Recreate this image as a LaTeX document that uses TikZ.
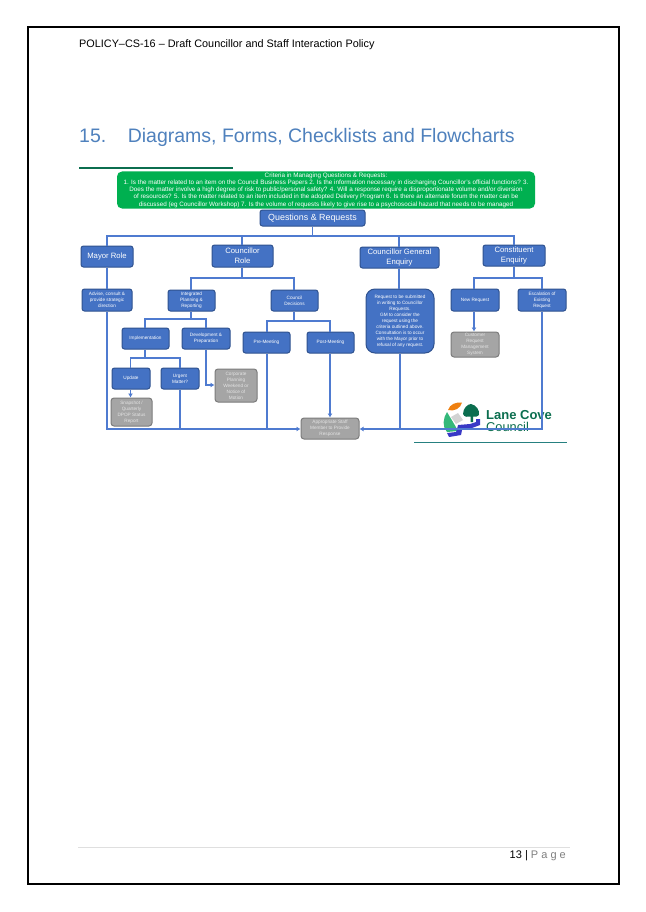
\documentclass[tikz,border=0pt]{standalone}
\usepackage{fontspec}
\setmainfont{Liberation Sans}
\usetikzlibrary{arrows.meta}
\definecolor{bluefill}{HTML}{4472C4}
\definecolor{blueedge}{HTML}{2F528F}
\definecolor{blueline}{HTML}{4F7BD0}
\definecolor{grayfill}{HTML}{A5A5A5}
\definecolor{grayedge}{HTML}{7C7C7C}
\definecolor{graytext}{HTML}{E4E4E4}
\definecolor{headcol}{HTML}{4F81BD}
\definecolor{critgreen}{HTML}{00B050}
\definecolor{logogreen}{HTML}{0B6E4F}
\tikzset{
  x=1pt,y=-1pt,
  box/.style={draw=blueedge,fill=bluefill,line width=1pt,rounded corners=2.5pt,text=white,align=center,inner sep=0pt,font=\fontsize{4.7}{6}\selectfont},
  graybox/.style={draw=grayedge,fill=grayfill,line width=1pt,rounded corners=3pt,text=graytext,align=center,inner sep=0pt,font=\fontsize{4.7}{6}\selectfont},
  bigbox/.style={box,font=\fontsize{7.7}{9.6}\selectfont},
  conn/.style={draw=blueline,line width=1.1pt},
  arr/.style={conn,-{Latex[length=4pt,width=5pt]}},
}
\newcommand{\bx}[7][box]{%
  \node[#1,minimum width=#5pt-#3pt,minimum height=#6pt-#4pt] (#2) at ({(#3+#5)/2},{(#4+#6)/2}) {#7};}
\begin{document}
\begin{tikzpicture}
\useasboundingbox (0,0) rectangle (645,912);
\fill[white] (0,0) rectangle (645,912);
\draw[black,line width=2pt] (28,27.5) rectangle (619,884);
\node[anchor=west,inner sep=0pt,font=\fontsize{10.85}{13}\selectfont] (hdr) at (79,45) {POLICY–CS-16 – Draft Councillor and Staff Interaction Policy};
\node[anchor=west,inner sep=0pt,text=headcol,font=\fontsize{19.5}{24}\selectfont] (ttl) at (79,137) {15.\hspace{21.5pt}Diagrams, Forms, Checklists and Flowcharts};
\coordinate (hl1) at (79,168.5); \coordinate (hl2) at (233,168.5);
\draw[logogreen,line width=2pt] (hl1) -- (hl2);
% criteria
\node[fill=critgreen,rounded corners=5pt,minimum width=418pt,minimum height=37pt,inner sep=0pt,text=white,align=center,font=\fontsize{6.3}{7.3}\selectfont] (crit) at (326,190) {Criteria in Managing Questions \& Requests:\\
1. Is the matter related to an item on the Council Business Papers 2. Is the information necessary in discharging Councillor's official functions? 3.\\
Does the matter involve a high degree of risk to public/personal safety? 4. Will a response require a disproportionate volume and/or diversion\\
of resources? 5. Is the matter related to an item included in the adopted Delivery Program 6. Is there an alternate forum the matter can be\\
discussed (eg Councillor Workshop) 7. Is the volume of requests likely to give rise to a psychosocial hazard that needs to be managed};
\coordinate (qb) at (312.5,236);
\coordinate (b1) at (107,236); \coordinate (b2) at (242,236); \coordinate (b3) at (399,236); \coordinate (b4) at (514,236);
\coordinate (cb) at (242,278); \coordinate (cb1) at (191,278); \coordinate (cb2) at (294,278);
\coordinate (ib) at (191,319); \coordinate (ib1) at (145,319); \coordinate (ib2) at (206,319);
\coordinate (mb) at (145,358); \coordinate (mb1) at (130.5,358); \coordinate (mb2) at (180,358);
\coordinate (db) at (294,321); \coordinate (db1) at (267,321); \coordinate (db2) at (330,321);
\coordinate (kb) at (514,278); \coordinate (kb1) at (474,278); \coordinate (kb2) at (542,278);
\coordinate (lb) at (107,429); \coordinate (urg) at (180,429); \coordinate (pre) at (267,429);
\coordinate (gen) at (400,429); \coordinate (esc) at (542,429);
\coordinate (cp) at (206,385);
% logo
\fill[orange!75!brown] (448,410) .. controls (450,404) and (456,402) .. (462,402.5) .. controls (461,408) and (454,412) .. (448,410) -- cycle;
\fill[teal!70!green!80] (447,412) .. controls (443,418) and (442,427) .. (447,432) -- (458,431) .. controls (455,425) and (451,419) .. (447,412) -- cycle;
\fill[gray!35] (451,417) -- (458,413) -- (463,420) -- (456,424) -- cycle;
\fill[logogreen] (463,414) .. controls (463,408) and (468,404) .. (471,404) .. controls (476,405) and (480,410) .. (479,415) .. controls (478,417) and (475,417) .. (473,416.5) -- (473,422) -- (470.5,422) -- (470.5,416.5) .. controls (468,417.5) and (464,417) .. (463,414) -- cycle;
\fill[blue!55!gray] (458,425) -- (470,424) -- (476,422) -- (476,419) -- (480,419) -- (480,425) -- (472,428) -- (462,430) -- (461,435) -- (449,437) -- (447,433) -- (456,432) -- (457,429) -- cycle;
\node[anchor=west,inner sep=0pt,text=logogreen,font=\bfseries\fontsize{13}{15}\selectfont] (lc) at (486,415) {Lane Cove};
\node[anchor=west,inner sep=0pt,text=logogreen,font=\fontsize{12.8}{15}\selectfont] (cc) at (486,427) {Council};
\coordinate (gl1) at (414,442); \coordinate (gl2) at (567,442);
\draw[teal!70!gray,line width=1pt] (gl1) -- (gl2);
% boxes
\bx[bigbox,font=\fontsize{8.9}{11}\selectfont]{q}{260}{210}{365}{226}{Questions \& Requests}
\bx[bigbox]{mayor}{81}{246}{133}{267}{Mayor Role}
\bx[bigbox]{coun}{212}{245}{273}{267}{Councillor\\Role}
\bx[bigbox]{cge}{360}{247}{439}{268}{Councillor General\\Enquiry}
\bx[bigbox]{cons}{483}{245}{545}{266}{Constituent\\Enquiry}
\bx{adv}{82}{289}{132}{311}{Advise, consult \&\\provide strategic\\direction}
\bx{ipr}{168}{290}{215}{311}{Integrated\\Planning \&\\Reporting}
\bx{dec}{271}{290}{318}{311}{Council\\Decisions}
\bx{imp}{122}{328}{169}{349}{Implementation}
\bx{dev}{182}{328}{230}{349}{Development \&\\Preparation}
\bx{prem}{243}{332}{290}{353}{Pre-Meeting}
\bx{post}{307}{332}{354}{353}{Post-Meeting}
\bx{upd}{112}{368}{150}{389}{Update}
\bx{urgm}{161}{368}{199}{389}{Urgent\\Matter?}
\bx[graybox]{snap}{111}{398}{152}{426}{Snapshot /\\Quarterly\\DPOP Status\\Report}
\bx[graybox]{corp}{215}{369}{257}{402}{Corporate\\Planning\\Weekend or\\Notice of\\Motion}
\bx[graybox]{staff}{301}{418}{359}{439}{Appropriate Staff\\Member to Provide\\Response}
\node[box,rounded corners=9pt,minimum width=68pt,minimum height=64pt] (req) at (400,321) {Request to be submitted\\in writing to Councillor\\Requests.\\GM to consider the\\request using the\\criteria outlined above.\\Consultation is to occur\\with the Mayor prior to\\refusal of any request.};
\bx{newr}{451}{289}{499}{311}{New Request}
\bx{escr}{518}{289}{566}{311}{Escalation of\\Existing\\Request}
\bx[graybox]{crm}{451}{332}{499}{357}{Customer\\Request\\Management\\System}
% connectors
\draw[conn] (q.south -| qb) -- (qb);
\draw[conn] (mayor.north -| b1) |- (b4) -- (cons.north -| b4);
\draw[conn] (b2) -- (coun.north -| b2);
\draw[conn] (b3) -- (cge.north -| b3);
\draw[conn] (mayor.south -| b1) -- (adv.north -| b1);
\draw[conn] (coun.south -| cb) -- (cb);
\draw[conn] (ipr.north -| cb1) |- (cb2) -- (dec.north -| cb2);
\draw[conn] (cge.south -| b3) -- (req.north -| b3);
\draw[conn] (cons.south -| kb) -- (kb);
\draw[conn] (newr.north -| kb1) |- (kb2) -- (escr.north -| kb2);
\draw[conn] (ipr.south -| ib) -- (ib);
\draw[conn] (imp.north -| ib1) |- (ib2) -- (dev.north -| ib2);
\draw[conn] (imp.south -| mb) -- (mb);
\draw[conn] (upd.north -| mb1) |- (mb2) -- (urgm.north -| mb2);
\draw[arr] (upd.south -| mb1) -- (snap.north -| mb1);
\draw[arr] (dev.south -| cp) |- (corp.west |- cp);
\draw[conn] (dec.south -| db) -- (db);
\draw[conn] (prem.north -| db1) |- (db2) -- (post.north -| db2);
\draw[arr] (newr.south -| kb1) -- (crm.north -| kb1);
\draw[arr] (adv.south -| lb) -- (lb) -- (staff.west |- lb);
\draw[conn] (urgm.south -| urg) -- (urg);
\draw[conn] (prem.south -| pre) -- (pre);
\draw[arr] (post.south -| db2) -- (staff.north -| db2);
\draw[conn] (req.south -| gen) -- (gen);
\draw[arr] (escr.south -| esc) -- (esc) -- (staff.east |- esc);
% footer
\coordinate (f1) at (78,847); \coordinate (f2) at (570,847);
\draw[gray!25,line width=0.7pt] (f1) -- (f2);
\node[anchor=east,inner sep=0pt,font=\fontsize{11}{13}\selectfont] (pg) at (566,856) {13 | {\color{gray}P a g e}};
\end{tikzpicture}
\end{document}
